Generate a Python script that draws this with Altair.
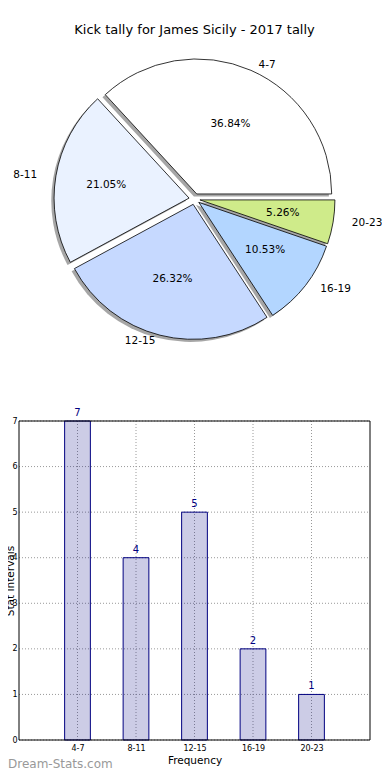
import json
import altair as alt
import pandas as pd

# ---------------- data ----------------
categories = ["4-7", "8-11", "12-15", "16-19", "20-23"]
counts = [7, 4, 5, 2, 1]
slice_colors = ["#ffffff", "#eaf2ff", "#c6d9ff", "#b3d6ff", "#cfeb8a"]
y_ticks = [0, 1, 2, 3, 4, 5, 6, 7]

TITLE = "Kick tally for James Sicily - 2017 tally"
X_TITLE = "Frequency"
Y_TITLE = "Stat Intervals"
WATERMARK = "Dream-Stats.com"

# ---------------- layout / style ----------------
FONT = "DejaVu Sans"
W, H = 351, 695            # plot view (page x 19..370, y 45..740)
PAD = {"left": 11, "top": 37, "right": 12, "bottom": 32}
BAR_TOP = 376              # pixel of y=7 inside view
CX, CY = 175.5, 154.0      # pie centre (view px)
RX, RY = 140.0, 128.0      # matplotlib elliptical radii (labels)
R_ARC = 135                # drawn wedge radius
EXPL = 5.5                 # explode distance (px)
SHX, SHY = -2.8, 2.6       # shadow offset
LBL, PCT = 1.1, 0.6        # label distances
HALF_W = 0.22              # half bar width (data units)

pie_df = pd.DataFrame({"cat": categories, "count": counts,
                       "order": list(range(len(categories)))})
bar_df = pd.DataFrame({"cat": categories, "count": counts,
                       "idx": list(range(len(categories)))})
tick_df = pd.DataFrame({"v": y_ticks})
one_df = pd.DataFrame({"a": [0]})

# ---------------- pie ----------------
pie_base = (
    alt.Chart(pie_df)
    .transform_joinaggregate(total="sum(count)")
    .transform_window(cum="sum(count)", sort=[alt.SortField("order")], frame=[None, 0])
    .transform_calculate(
        a0="2*PI*(datum.cum-datum.count)/datum.total",
        a1="2*PI*datum.cum/datum.total",
    )
    .transform_calculate(
        mid="(datum.a0+datum.a1)/2",
        t0="PI/2-datum.a1",
        t1="PI/2-datum.a0",
        pct="format(100*datum.count/datum.total,'.2f')+'%'",
    )
    .transform_calculate(
        cx=f"{CX}+{EXPL}*cos(datum.mid)",
        cy=f"{CY}-{EXPL}*sin(datum.mid)",
    )
    .transform_calculate(
        sx=f"datum.cx+({SHX})",
        sy=f"datum.cy+({SHY})",
        lx=f"datum.cx+{LBL}*{RX}*cos(datum.mid)",
        ly=f"datum.cy-{LBL}*{RY}*sin(datum.mid)",
        px=f"datum.cx+{PCT}*{RX}*cos(datum.mid)",
        py=f"datum.cy-{PCT}*{RY}*sin(datum.mid)",
    )
)

theta_enc = dict(theta=alt.Theta("t0:Q", scale=None, stack=None), theta2="t1:Q")

shadow = pie_base.mark_arc(radius=R_ARC, fill="#4d4d4d", opacity=0.5).encode(
    x=alt.X("sx:Q", scale=None, axis=None),
    y=alt.Y("sy:Q", scale=None, axis=None),
    **theta_enc,
)

wedges = pie_base.mark_arc(radius=R_ARC, stroke="black", strokeWidth=0.8).encode(
    x=alt.X("cx:Q", scale=None, axis=None),
    y=alt.Y("cy:Q", scale=None, axis=None),
    color=alt.Color("cat:N", scale=alt.Scale(domain=categories, range=slice_colors), legend=None),
    **theta_enc,
)

pct_text = pie_base.mark_text(font=FONT, fontSize=10.5, color="black",
                              align="center", baseline="middle").encode(
    x=alt.X("px:Q", scale=None, axis=None),
    y=alt.Y("py:Q", scale=None, axis=None),
    text="pct:N",
)

lab_right = pie_base.transform_filter("cos(datum.mid) > 0").mark_text(
    font=FONT, fontSize=10.5, color="black", align="left", baseline="middle").encode(
    x=alt.X("lx:Q", scale=None, axis=None),
    y=alt.Y("ly:Q", scale=None, axis=None),
    text="cat:N",
)
lab_left = pie_base.transform_filter("cos(datum.mid) <= 0").mark_text(
    font=FONT, fontSize=10.5, color="black", align="right", baseline="middle").encode(
    x=alt.X("lx:Q", scale=None, axis=None),
    y=alt.Y("ly:Q", scale=None, axis=None),
    text="cat:N",
)

# ---------------- bars ----------------
xs = alt.Scale(domain=[-1, 5], range=[0, W], nice=False, zero=False)
ys = alt.Scale(domain=[0, 7], range=[H, BAR_TOP], nice=False, zero=False)

x_axis = alt.Axis(
    values=list(range(len(categories))),
    labelExpr=f"{json.dumps(categories)}[datum.value]",
    title=X_TITLE, ticks=False, domain=False, grid=False,
    labelPadding=4, labelFontSize=8, labelFont=FONT, labelColor="black",
    titleFont=FONT, titleFontSize=10.5, titleFontWeight="normal", titleColor="black",
    titleX=W / 2, titleY=23, titleBaseline="alphabetic", titleAlign="center",
)
y_axis = alt.Axis(
    values=y_ticks, format="d", title=Y_TITLE, ticks=False, domain=False, grid=False,
    labelPadding=2, labelFontSize=8, labelFont=FONT, labelColor="black",
    titleFont=FONT, titleFontSize=10.5, titleFontWeight="normal", titleColor="black",
    titleAngle=270, titleX=-6, titleY=(H + BAR_TOP) / 2,
    titleBaseline="alphabetic", titleAlign="center",
)

vgrid = alt.Chart(bar_df).mark_rule(color="#999999", strokeDash=[1, 2], strokeWidth=1).encode(
    x=alt.X("idx:Q", scale=xs, axis=x_axis),
    y=alt.datum(0), y2=alt.datum(7),
)
hgrid = alt.Chart(tick_df).mark_rule(color="#999999", strokeDash=[1, 2], strokeWidth=1).encode(
    y=alt.Y("v:Q", scale=ys, axis=y_axis),
    x=alt.datum(-1), x2=alt.datum(5),
)

bars = alt.Chart(bar_df).transform_calculate(
    x0=f"datum.idx-{HALF_W}", x1=f"datum.idx+{HALF_W}"
).mark_bar(color="navy", fillOpacity=0.2, stroke="navy", strokeWidth=1).encode(
    x=alt.X("x0:Q", scale=xs),
    x2="x1:Q",
    y=alt.Y("count:Q", scale=ys),
    y2=alt.datum(0),
)

values = alt.Chart(bar_df).mark_text(font=FONT, fontSize=10, color="navy",
                                     baseline="alphabetic", dy=-5).encode(
    x=alt.X("idx:Q", scale=xs),
    y=alt.Y("count:Q", scale=ys),
    text="count:Q",
)

frame = alt.Chart(one_df).mark_rect(fillOpacity=0, stroke="black", strokeWidth=1).encode(
    x=alt.datum(-1), x2=alt.datum(5), y=alt.datum(0), y2=alt.datum(7),
)

watermark = alt.Chart(one_df).mark_text(
    text=WATERMARK, font=FONT, fontSize=12, color="#999999",
    align="left", baseline="alphabetic").encode(
    x=alt.value(-11), y=alt.value(H + 28),
)

chart = alt.layer(
    shadow, wedges, pct_text, lab_right, lab_left,
    vgrid, hgrid, bars, values, frame, watermark,
).properties(
    width=W, height=H,
    title=alt.TitleParams(TITLE, font=FONT, fontSize=13, fontWeight="normal",
                          color="black", anchor="middle", frame="group",
                          baseline="alphabetic", offset=11, dy=13),
    autosize=alt.AutoSizeParams(type="none"),
    padding=PAD,
).configure_view(stroke="transparent")

chart.save("out.html", embed_options={"renderer": "svg", "actions": False})
